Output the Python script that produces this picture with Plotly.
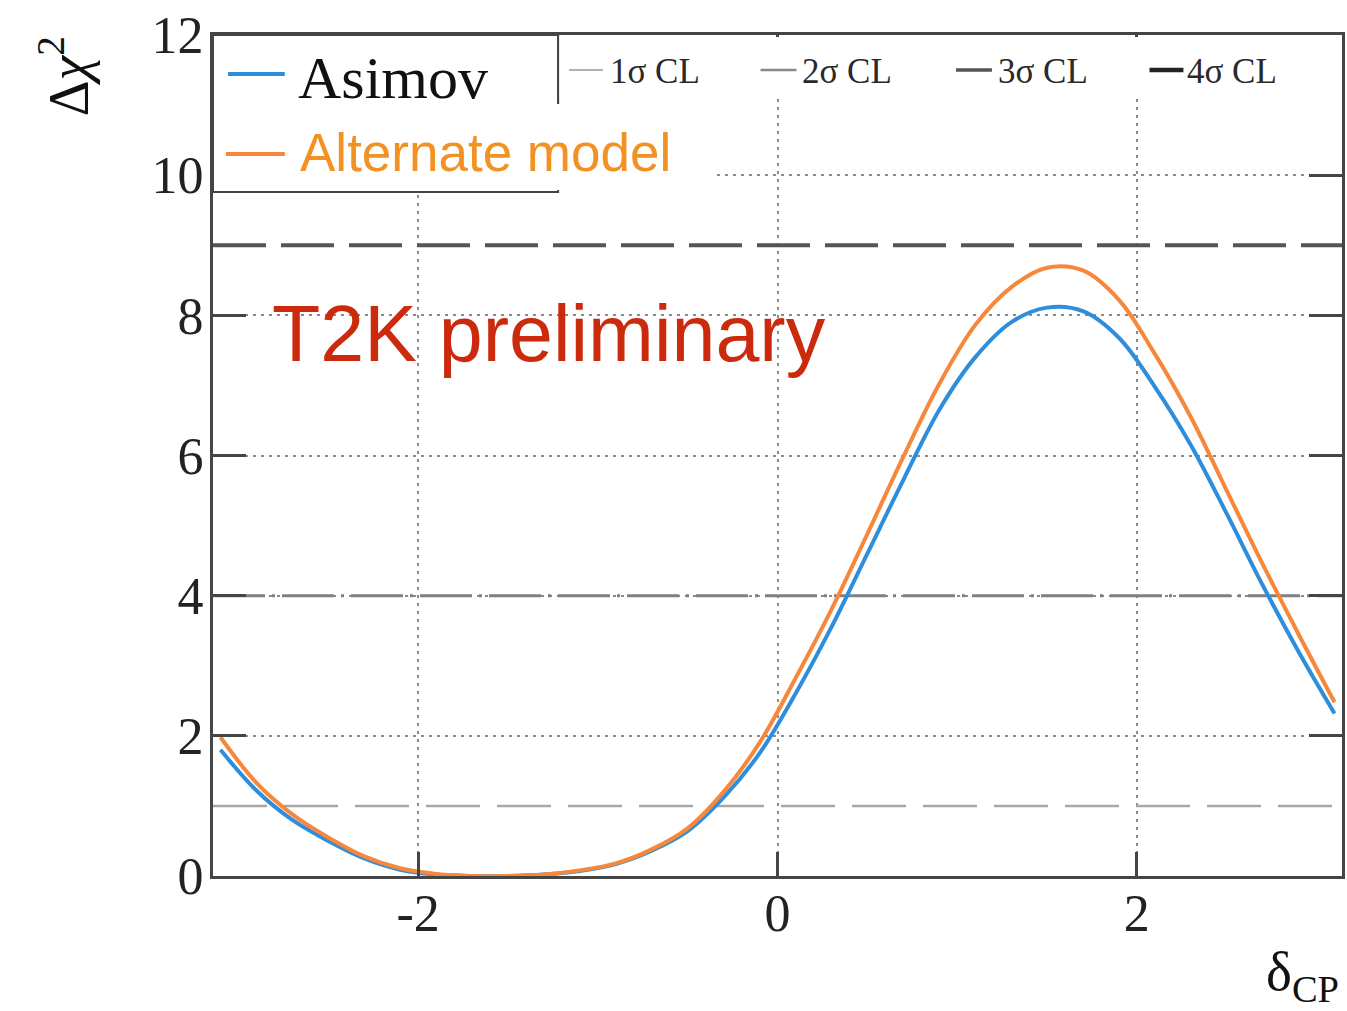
import math
import plotly.graph_objects as go

# ---------------- data ----------------
delta_cp = [-3.10, -2.90, -2.70, -2.50, -2.30, -2.10, -1.90, -1.70, -1.50, -1.30,
            -1.10, -0.90, -0.70, -0.50, -0.30, -0.10, 0.10, 0.30, 0.50, 0.70,
            0.90, 1.10, 1.30, 1.50, 1.70, 1.90, 2.10, 2.30, 2.50, 2.70, 2.90, 3.10]

asimov = [1.80, 1.22, 0.80, 0.50, 0.25, 0.09, 0.02, 0.00, 0.00, 0.02,
          0.07, 0.17, 0.36, 0.64, 1.12, 1.75, 2.60, 3.55, 4.60, 5.65,
          6.65, 7.40, 7.90, 8.11, 8.06, 7.68, 6.98, 6.15, 5.17, 4.15, 3.20, 2.32]

alternate = [1.98, 1.33, 0.88, 0.55, 0.28, 0.11, 0.03, 0.00, 0.00, 0.02,
             0.08, 0.18, 0.38, 0.68, 1.20, 1.90, 2.82, 3.80, 4.88, 5.98,
             7.02, 7.86, 8.40, 8.68, 8.64, 8.22, 7.45, 6.55, 5.50, 4.45, 3.45, 2.48]

cl_levels = [1, 4, 9, 16]
cl_labels = ["1σ CL", "2σ CL", "3σ CL", "4σ CL"]

x_tickvals = [-2, 0, 2]
x_ticktext = ["-2", "0", "2"]
y_tickvals = [0, 2, 4, 6, 8, 10, 12]
y_ticktext = ["0", "2", "4", "6", "8", "10", "12"]

# ---------------- layout constants ----------------
W_FIG, H_FIG = 1347, 1011
L, R, T, B = 213, 2, 35, 135
PW = W_FIG - L - R
PH = H_FIG - T - B
SERIF = "Liberation Serif, Times New Roman, serif"
SANS = "Liberation Sans, Arial, sans-serif"
FRAME = "#454545"
BLUE = "#2f8edb"
ORANGE = "#f7873a"


def px(xp):
    return (xp - L) / PW


def py(yp):
    return (H_FIG - B - yp) / PH


fig = go.Figure()

cl_styles = [
    dict(color="#a8a8a8", width=2.5, dash="54px,17px"),
    dict(color="#808080", width=3, dash="52px,7px,3px,7px"),
    dict(color="#555555", width=4, dash="53px,15px"),
    dict(color="#222222", width=4.5, dash="solid"),
]
xr = [-math.pi, math.pi]
for lvl, st in zip(cl_levels, cl_styles):
    fig.add_trace(go.Scatter(x=xr, y=[lvl, lvl], mode="lines", line=st,
                             hoverinfo="skip", showlegend=False))

fig.add_trace(go.Scatter(x=delta_cp, y=asimov, mode="lines", name="Asimov",
                         line=dict(color=BLUE, width=4, shape="spline", smoothing=1.0),
                         showlegend=False))
fig.add_trace(go.Scatter(x=delta_cp, y=alternate, mode="lines", name="Alternate model",
                         line=dict(color=ORANGE, width=4, shape="spline", smoothing=1.0),
                         showlegend=False))

shapes = []
# ROOT legend box (Asimov)
shapes.append(dict(type="rect", xref="paper", yref="paper", layer="above",
                   x0=px(213), x1=px(559), y0=py(192), y1=py(35),
                   fillcolor="white", line=dict(color=FRAME, width=2)))
# top CL legend area (white, no border)
shapes.append(dict(type="rect", xref="paper", yref="paper", layer="above",
                   x0=px(560), x1=px(1343.5), y0=py(98), y1=py(37),
                   fillcolor="white", line=dict(width=0)))
# left border of CL legend
shapes.append(dict(type="line", xref="paper", yref="paper", layer="above",
                   x0=px(559), x1=px(559), y0=py(104), y1=py(35),
                   line=dict(color=FRAME, width=2)))
# white overlay patch behind "Alternate model"
shapes.append(dict(type="rect", xref="paper", yref="paper", layer="above",
                   x0=px(282), x1=px(718), y0=py(190), y1=py(104),
                   fillcolor="white", line=dict(width=0)))
# legend sample lines
shapes.append(dict(type="line", xref="paper", yref="paper", layer="above",
                   x0=px(228), x1=px(285), y0=py(74), y1=py(74),
                   line=dict(color=BLUE, width=4)))
shapes.append(dict(type="line", xref="paper", yref="paper", layer="above",
                   x0=px(226), x1=px(285), y0=py(154), y1=py(154),
                   line=dict(color=ORANGE, width=4)))
cl_leg_x = [(570, 604), (762, 798), (958, 994), (1152, 1186)]
cl_leg_col = ["#b0b0b0", "#888888", "#555555", "#222222"]
cl_leg_w = [2, 2.5, 3.5, 4.5]
for (a, b), c, w in zip(cl_leg_x, cl_leg_col, cl_leg_w):
    shapes.append(dict(type="line", xref="paper", yref="paper", layer="above",
                       x0=px(a), x1=px(b), y0=py(70), y1=py(70),
                       line=dict(color=c, width=w)))

annotations = []
cl_text_x = [609, 802, 998, 1188]
for tx, lab in zip(cl_text_x, cl_labels):
    annotations.append(dict(xref="paper", yref="paper", x=px(tx), y=py(71),
                            xanchor="left", yanchor="middle", showarrow=False,
                            text=lab, font=dict(family=SERIF, size=35, color="#2a2a2a")))
annotations.append(dict(xref="paper", yref="paper", x=px(296), y=py(78),
                        xanchor="left", yanchor="middle", showarrow=False,
                        text="Asimov", font=dict(family=SERIF, size=60, color="#111111")))
annotations.append(dict(xref="paper", yref="paper", x=px(298), y=py(152),
                        xanchor="left", yanchor="middle", showarrow=False,
                        text="Alternate model", font=dict(family=SANS, size=53, color="#f39224")))
annotations.append(dict(xref="paper", yref="paper", x=px(270), y=py(333),
                        xanchor="left", yanchor="middle", showarrow=False,
                        text="T2K preliminary", font=dict(family=SANS, size=79, color="#cc2a0c")))
# axis titles
annotations.append(dict(xref="paper", yref="paper", x=px(64), y=py(76),
                        xanchor="center", yanchor="middle", showarrow=False, textangle=-90,
                        text="Δ<i>χ</i><sup>2</sup>", font=dict(family=SERIF, size=56, color="#111111")))
annotations.append(dict(xref="paper", yref="paper", x=px(1344), y=py(975),
                        xanchor="right", yanchor="middle", showarrow=False,
                        text="δ<sub>CP</sub>", font=dict(family=SERIF, size=55, color="#111111")))

fig.update_layout(
    width=W_FIG, height=H_FIG,
    margin=dict(l=L, r=R, t=T, b=B, pad=0),
    paper_bgcolor="white", plot_bgcolor="white",
    showlegend=False,
    shapes=shapes, annotations=annotations,
    xaxis=dict(range=xr, tickvals=x_tickvals, ticktext=x_ticktext,
               showgrid=True, gridcolor="#8a8a8a", gridwidth=2, griddash="3px,5px",
               zeroline=False, showline=True, linecolor=FRAME, linewidth=3,
               mirror="ticks", ticks="inside", ticklen=24, tickwidth=3, tickcolor=FRAME,
               ticklabelstandoff=-10,
               tickfont=dict(family=SERIF, size=52, color="#222222")),
    yaxis=dict(range=[0, 12], tickvals=y_tickvals, ticktext=y_ticktext,
               showgrid=True, gridcolor="#8a8a8a", gridwidth=2, griddash="3px,5px",
               zeroline=False, showline=True, linecolor=FRAME, linewidth=3,
               mirror="ticks", ticks="inside", ticklen=33, tickwidth=3, tickcolor=FRAME,
               ticklabelstandoff=-4,
               tickfont=dict(family=SERIF, size=52, color="#222222")),
)

fig.write_html("out.html")
